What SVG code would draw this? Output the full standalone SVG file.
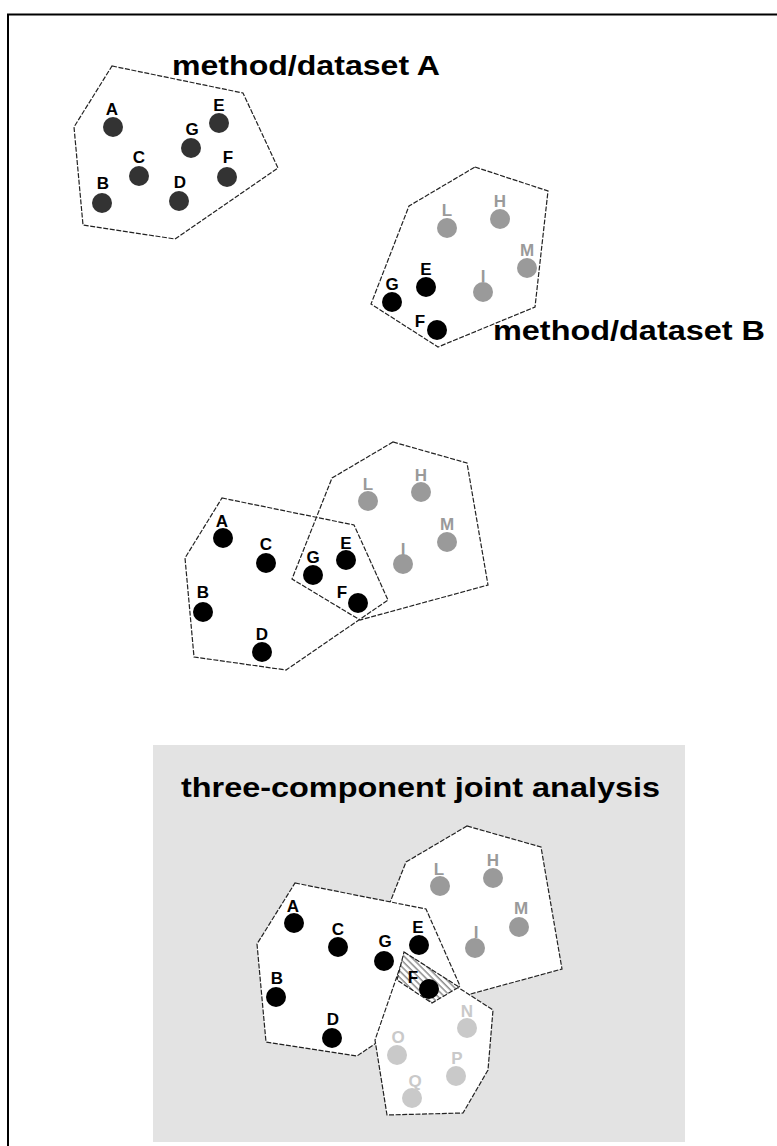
<svg xmlns="http://www.w3.org/2000/svg" width="777" height="1146" viewBox="0 0 777 1146">
<style>
.hull{fill:none;stroke:#222;stroke-width:1.2;stroke-dasharray:5 1.6}
.hullw{fill:#fff;stroke:#222;stroke-width:1.2;stroke-dasharray:5 1.6}
.lbl{font-family:"Liberation Sans",Arial,sans-serif;font-weight:bold;font-size:17px;text-anchor:middle}
.title{font-family:"Liberation Sans",Arial,sans-serif;font-weight:bold;font-size:28px;fill:#000}
.dk{fill:#333}
.bk{fill:#000}
.gr{fill:#9a9a9a}
.lt{fill:#c9c9c9}
</style>
<defs>
<pattern id="hatch" width="4.5" height="4.5" patternUnits="userSpaceOnUse" patternTransform="rotate(-45)">
<rect width="4.5" height="4.5" fill="#fff"/>
<line x1="1" y1="0" x2="1" y2="4.5" stroke="#555" stroke-width="1"/>
</pattern>
</defs>
<rect x="8" y="14.5" width="800" height="1200" fill="#fff" stroke="#000" stroke-width="2"/>
<rect id="panel" x="153" y="745" width="532" height="397" fill="#e3e3e3"/>

<text class="title" x="172" y="75" textLength="268" lengthAdjust="spacingAndGlyphs">method/dataset A</text>
<text class="title" x="493" y="340" textLength="272" lengthAdjust="spacingAndGlyphs">method/dataset B</text>
<text class="title" x="181" y="797" font-size="29" textLength="479" lengthAdjust="spacingAndGlyphs">three-component joint analysis</text>

<g id="hulls">
<polygon class="hull" points="112,66 243,93 278,168 175,239 83,225 74,127"/>
<polygon class="hull" points="475,167 548,191 535,307 438,347 371,304 409,206"/>
<polygon class="hull" points="222,498 354,525 388,600 286,670 194,657 185,558"/>
<polygon class="hull" points="393,442 467,463 488,585 360,620 292,579 332,478"/>
<polygon class="hullw" points="467,826 541,847 562,969 434,1004 366,963 406,862"/>
<polygon class="hullw" points="295,883 426,909 460,986 357,1056 266,1042 257,944"/>
<polygon class="hullw" points="405,953 493,1010 488,1070 463,1113 387,1115 375,1040"/>
<polygon id="overlap" class="hull" points="404,952 459,987 432,1003 397,980" fill="url(#hatch)" style="fill:url(#hatch)"/>
</g>

<g id="setA-top">
<g id="A1-A"><circle class="dk" cx="113" cy="127" r="10"/><text class="lbl" x="112" y="115">A</text></g>
<g id="A1-E"><circle class="dk" cx="219" cy="123" r="10"/><text class="lbl" x="219" y="111">E</text></g>
<g id="A1-G"><circle class="dk" cx="191" cy="148" r="10"/><text class="lbl" x="192" y="135">G</text></g>
<g id="A1-C"><circle class="dk" cx="139" cy="176" r="10"/><text class="lbl" x="139" y="163">C</text></g>
<g id="A1-F"><circle class="dk" cx="227" cy="177" r="10"/><text class="lbl" x="228" y="163">F</text></g>
<g id="A1-B"><circle class="dk" cx="102" cy="203" r="10"/><text class="lbl" x="103" y="189">B</text></g>
<g id="A1-D"><circle class="dk" cx="179" cy="201" r="10"/><text class="lbl" x="180" y="188">D</text></g>
</g>

<g id="setB-top">
<g id="B1-L"><circle class="gr" cx="447" cy="228" r="10"/><text class="lbl gr" x="447" y="216">L</text></g>
<g id="B1-H"><circle class="gr" cx="500" cy="219" r="10"/><text class="lbl gr" x="500" y="207">H</text></g>
<g id="B1-M"><circle class="gr" cx="527" cy="268" r="10"/><text class="lbl gr" x="527" y="256">M</text></g>
<g id="B1-I"><circle class="gr" cx="483" cy="292" r="10"/><text class="lbl gr" x="483" y="282">I</text></g>
<g id="B1-E"><circle class="bk" cx="426" cy="287" r="10"/><text class="lbl" x="426" y="275">E</text></g>
<g id="B1-G"><circle class="bk" cx="392" cy="302" r="10"/><text class="lbl" x="392" y="290">G</text></g>
<g id="B1-F"><circle class="bk" cx="437" cy="330" r="10"/><text class="lbl" x="420" y="327">F</text></g>
</g>

<g id="merged">
<g id="M-A"><circle class="bk" cx="223" cy="538" r="10"/><text class="lbl" x="222" y="527">A</text></g>
<g id="M-C"><circle class="bk" cx="266" cy="563" r="10"/><text class="lbl" x="266" y="550">C</text></g>
<g id="M-B"><circle class="bk" cx="203" cy="612" r="10"/><text class="lbl" x="203" y="598">B</text></g>
<g id="M-D"><circle class="bk" cx="262" cy="652" r="10"/><text class="lbl" x="262" y="640">D</text></g>
<g id="M-G"><circle class="bk" cx="313" cy="575" r="10"/><text class="lbl" x="313" y="563">G</text></g>
<g id="M-E"><circle class="bk" cx="346" cy="560" r="10"/><text class="lbl" x="346" y="549">E</text></g>
<g id="M-F"><circle class="bk" cx="358" cy="603" r="10"/><text class="lbl" x="342" y="598">F</text></g>
<g id="M-L"><circle class="gr" cx="368" cy="501" r="10"/><text class="lbl gr" x="368" y="490">L</text></g>
<g id="M-H"><circle class="gr" cx="421" cy="492" r="10"/><text class="lbl gr" x="421" y="481">H</text></g>
<g id="M-M"><circle class="gr" cx="447" cy="542" r="10"/><text class="lbl gr" x="447" y="530">M</text></g>
<g id="M-I"><circle class="gr" cx="403" cy="564" r="10"/><text class="lbl gr" x="403" y="555">I</text></g>
</g>

<g id="joint">
<g id="J-A"><circle class="bk" cx="294" cy="923" r="10"/><text class="lbl" x="293" y="912">A</text></g>
<g id="J-C"><circle class="bk" cx="338" cy="947" r="10"/><text class="lbl" x="338" y="935">C</text></g>
<g id="J-G"><circle class="bk" cx="384" cy="961" r="10"/><text class="lbl" x="385" y="947">G</text></g>
<g id="J-E"><circle class="bk" cx="419" cy="945" r="10"/><text class="lbl" x="418" y="933">E</text></g>
<g id="J-F"><circle class="bk" cx="429" cy="989" r="10"/><text class="lbl" x="413" y="983">F</text></g>
<g id="J-B"><circle class="bk" cx="276" cy="997" r="10"/><text class="lbl" x="277" y="984">B</text></g>
<g id="J-D"><circle class="bk" cx="332" cy="1038" r="10"/><text class="lbl" x="333" y="1025">D</text></g>
<g id="J-L"><circle class="gr" cx="440" cy="886" r="10"/><text class="lbl gr" x="439" y="875">L</text></g>
<g id="J-H"><circle class="gr" cx="493" cy="878" r="10"/><text class="lbl gr" x="493" y="866">H</text></g>
<g id="J-M"><circle class="gr" cx="519" cy="927" r="10"/><text class="lbl gr" x="521" y="914">M</text></g>
<g id="J-I"><circle class="gr" cx="475" cy="948" r="10"/><text class="lbl gr" x="476" y="938">I</text></g>
<g id="J-N"><circle class="lt" cx="467" cy="1028" r="10"/><text class="lbl lt" x="467" y="1017">N</text></g>
<g id="J-O"><circle class="lt" cx="397" cy="1055" r="10"/><text class="lbl lt" x="398" y="1043">O</text></g>
<g id="J-P"><circle class="lt" cx="456" cy="1076" r="10"/><text class="lbl lt" x="457" y="1064">P</text></g>
<g id="J-Q"><circle class="lt" cx="412" cy="1098" r="10"/><text class="lbl lt" x="415" y="1087">Q</text></g>
</g>
</svg>
